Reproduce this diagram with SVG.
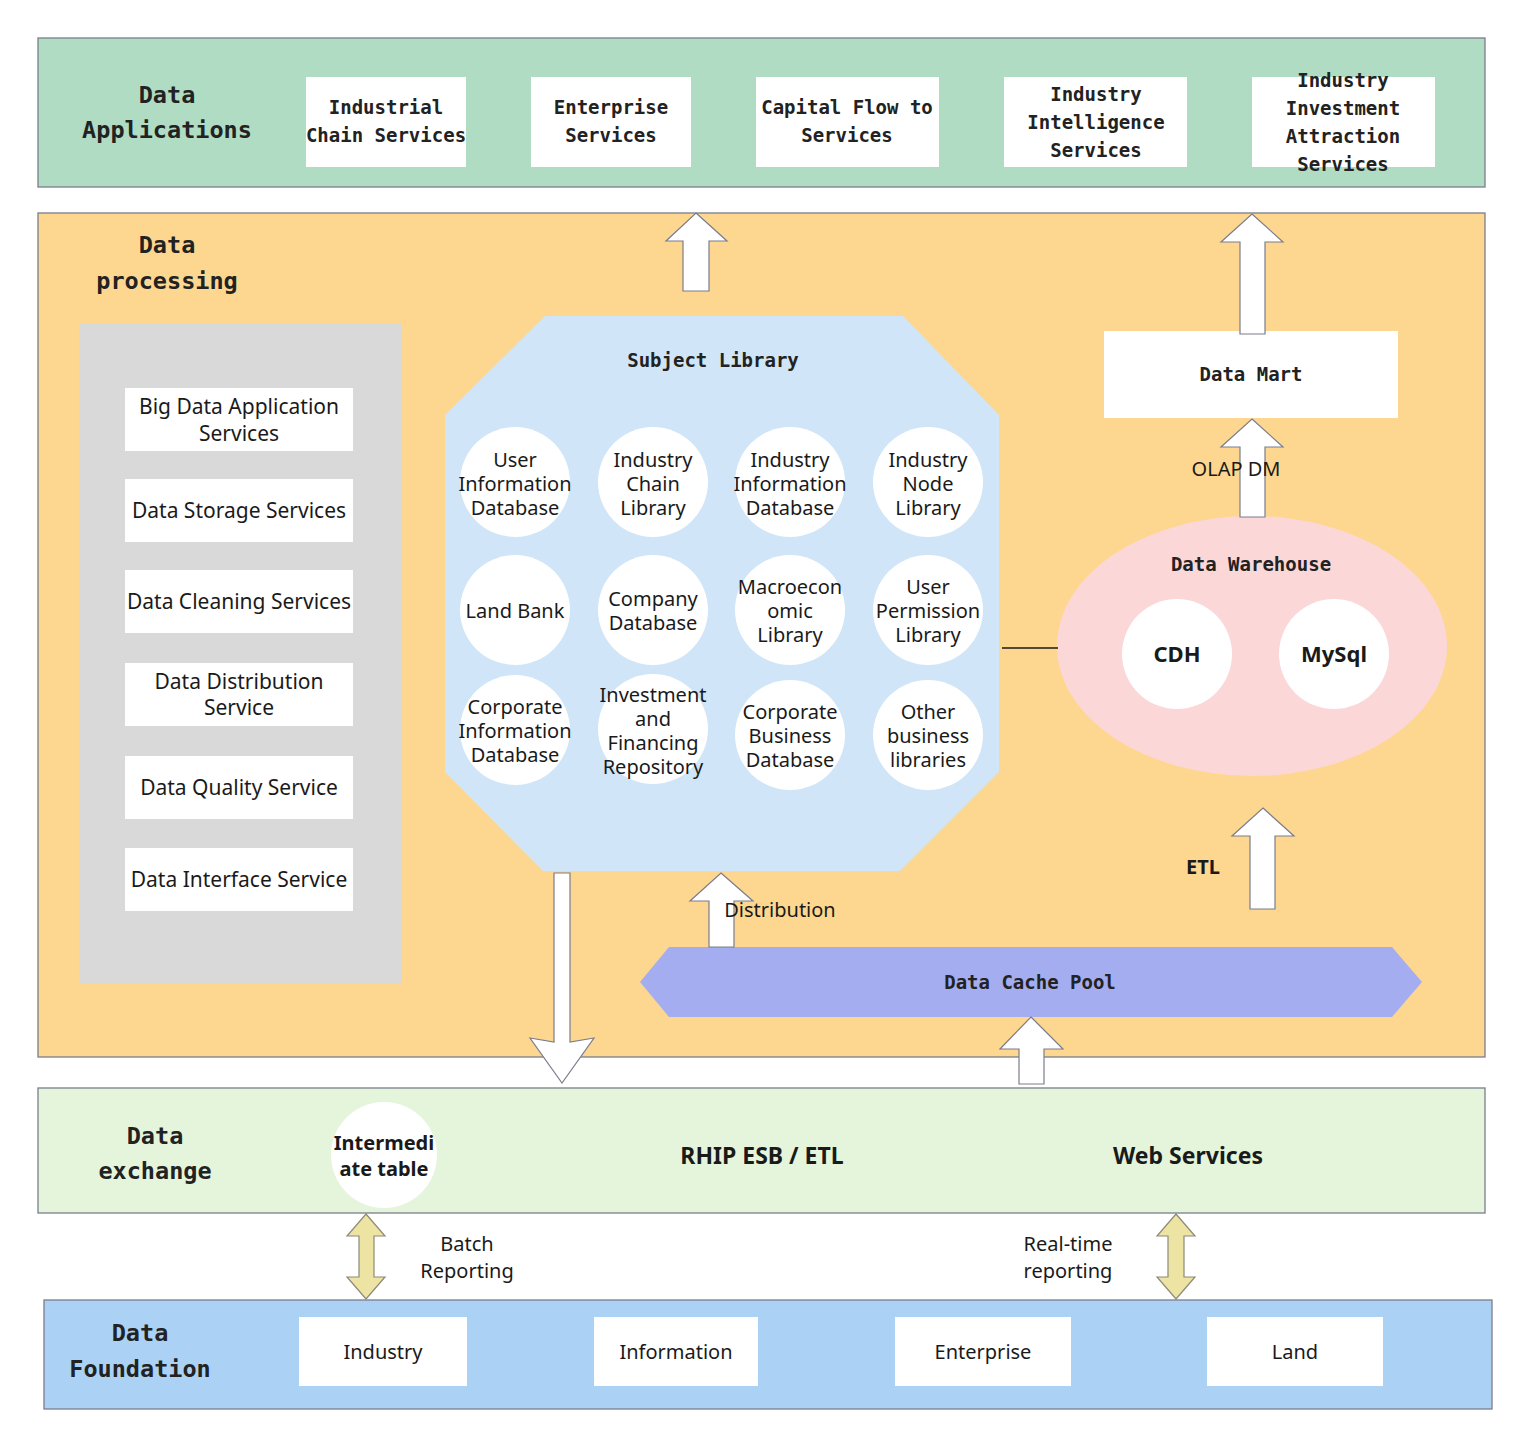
<svg xmlns="http://www.w3.org/2000/svg" width="1529" height="1446" viewBox="0 0 1529 1446">
<style>
.band{stroke:#7b7d8c;stroke-width:1.3}
.wb{fill:#ffffff}
.mono{font-family:"DejaVu Sans Mono","Liberation Mono",monospace;font-weight:bold;fill:#222222;text-anchor:middle;dominant-baseline:central}
.m19{font-size:19px}
.m24{font-size:23.5px}
.sans{font-family:"Noto Sans","Open Sans","Liberation Sans",sans-serif;fill:#1a1a1a;text-anchor:middle;dominant-baseline:central;font-size:20px}
.sb{font-weight:bold}
.arr{fill:#ffffff;stroke:#7b7d8c;stroke-width:1.2}
.darr{fill:#ede3a3;stroke:#8c8a78;stroke-width:1.2}
.circ{fill:#ffffff}
</style>
<rect width="1529" height="1446" fill="#ffffff"/>

<!-- Data Applications -->
<g id="data-applications">
<rect class="band" x="38" y="38" width="1447" height="149" fill="#b0dcc3"/>
<text class="mono m24" x="167" y="95">Data</text>
<text class="mono m24" x="167" y="130">Applications</text>
</g>
<g id="app-industrial-chain">
<rect class="wb" x="306" y="77" width="160" height="90"/>
<text class="mono m19" x="386" y="107">Industrial</text>
<text class="mono m19" x="386" y="135">Chain Services</text>
</g>
<g id="app-enterprise">
<rect class="wb" x="531" y="77" width="160" height="90"/>
<text class="mono m19" x="611" y="107">Enterprise</text>
<text class="mono m19" x="611" y="135">Services</text>
</g>
<g id="app-capital-flow">
<rect class="wb" x="756" y="77" width="183" height="90"/>
<text class="mono m19" x="847" y="107">Capital Flow to</text>
<text class="mono m19" x="847" y="135">Services</text>
</g>
<g id="app-industry-intelligence">
<rect class="wb" x="1004" y="77" width="183" height="90"/>
<text class="mono m19" x="1096" y="94">Industry</text>
<text class="mono m19" x="1096" y="122">Intelligence</text>
<text class="mono m19" x="1096" y="150">Services</text>
</g>
<g id="app-industry-investment">
<rect class="wb" x="1252" y="77" width="183" height="90"/>
<text class="mono m19" x="1343" y="80">Industry</text>
<text class="mono m19" x="1343" y="108">Investment</text>
<text class="mono m19" x="1343" y="136">Attraction</text>
<text class="mono m19" x="1343" y="164">Services</text>
</g>

<!-- Data processing -->
<g id="data-processing">
<rect class="band" x="38" y="213" width="1447" height="844" fill="#fdd78f"/>
<text class="mono m24" x="167" y="245">Data</text>
<text class="mono m24" x="167" y="281">processing</text>
</g>
<g id="services-panel">
<rect x="79" y="323" width="323" height="660" fill="#d9d9d9"/>
</g>
<g id="svc-big-data">
<rect class="wb" x="125" y="388" width="228" height="63"/>
<text class="sans" x="239" y="406" style="font-size:21px">Big Data Application</text>
<text class="sans" x="239" y="433" style="font-size:21px">Services</text>
</g>
<g id="svc-storage">
<rect class="wb" x="125" y="479" width="228" height="63"/>
<text class="sans" x="239" y="510" style="font-size:21px">Data Storage Services</text>
</g>
<g id="svc-cleaning">
<rect class="wb" x="125" y="570" width="228" height="63"/>
<text class="sans" x="239" y="601" style="font-size:21px">Data Cleaning Services</text>
</g>
<g id="svc-distribution">
<rect class="wb" x="125" y="663" width="228" height="63"/>
<text class="sans" x="239" y="681" style="font-size:21px">Data Distribution</text>
<text class="sans" x="239" y="707" style="font-size:21px">Service</text>
</g>
<g id="svc-quality">
<rect class="wb" x="125" y="756" width="228" height="63"/>
<text class="sans" x="239" y="787" style="font-size:21px">Data Quality Service</text>
</g>
<g id="svc-interface">
<rect class="wb" x="125" y="848" width="228" height="63"/>
<text class="sans" x="239" y="879" style="font-size:21px">Data Interface Service</text>
</g>

<!-- Subject Library -->
<g id="subject-library">
<polygon points="545,316 903,316 999,415 999,772 900,871 543,871 445,772 445,415" fill="#d0e5f7"/>
<text class="mono m19" x="713" y="360">Subject Library</text>
</g>
<g id="lib-user-info">
<circle class="circ" cx="515" cy="482" r="55"/>
<text class="sans" x="515" y="459">User</text>
<text class="sans" x="515" y="483">Information</text>
<text class="sans" x="515" y="507">Database</text>
</g>
<g id="lib-industry-chain">
<circle class="circ" cx="653" cy="482" r="55"/>
<text class="sans" x="653" y="459">Industry</text>
<text class="sans" x="653" y="483">Chain</text>
<text class="sans" x="653" y="507">Library</text>
</g>
<g id="lib-industry-info">
<circle class="circ" cx="790" cy="482" r="55"/>
<text class="sans" x="790" y="459">Industry</text>
<text class="sans" x="790" y="483">Information</text>
<text class="sans" x="790" y="507">Database</text>
</g>
<g id="lib-industry-node">
<circle class="circ" cx="928" cy="482" r="55"/>
<text class="sans" x="928" y="459">Industry</text>
<text class="sans" x="928" y="483">Node</text>
<text class="sans" x="928" y="507">Library</text>
</g>
<g id="lib-land-bank">
<circle class="circ" cx="515" cy="610" r="55"/>
<text class="sans" x="515" y="610">Land Bank</text>
</g>
<g id="lib-company">
<circle class="circ" cx="653" cy="610" r="55"/>
<text class="sans" x="653" y="598">Company</text>
<text class="sans" x="653" y="622">Database</text>
</g>
<g id="lib-macro">
<circle class="circ" cx="790" cy="610" r="55"/>
<text class="sans" x="790" y="586">Macroecon</text>
<text class="sans" x="790" y="610">omic</text>
<text class="sans" x="790" y="634">Library</text>
</g>
<g id="lib-user-permission">
<circle class="circ" cx="928" cy="610" r="55"/>
<text class="sans" x="928" y="586">User</text>
<text class="sans" x="928" y="610">Permission</text>
<text class="sans" x="928" y="634">Library</text>
</g>
<g id="lib-corporate-info">
<circle class="circ" cx="515" cy="730" r="55"/>
<text class="sans" x="515" y="706">Corporate</text>
<text class="sans" x="515" y="730">Information</text>
<text class="sans" x="515" y="754">Database</text>
</g>
<g id="lib-investment">
<circle class="circ" cx="653" cy="729" r="55"/>
<text class="sans" x="653" y="694">Investment</text>
<text class="sans" x="653" y="718">and</text>
<text class="sans" x="653" y="742">Financing</text>
<text class="sans" x="653" y="766">Repository</text>
</g>
<g id="lib-corporate-business">
<circle class="circ" cx="790" cy="735" r="55"/>
<text class="sans" x="790" y="711">Corporate</text>
<text class="sans" x="790" y="735">Business</text>
<text class="sans" x="790" y="759">Database</text>
</g>
<g id="lib-other">
<circle class="circ" cx="928" cy="735" r="55"/>
<text class="sans" x="928" y="711">Other</text>
<text class="sans" x="928" y="735">business</text>
<text class="sans" x="928" y="759">libraries</text>
</g>

<!-- Data Mart -->
<g id="data-mart">
<rect class="wb" x="1104" y="331" width="294" height="87"/>
<text class="mono m19" x="1251" y="374">Data Mart</text>
</g>

<!-- Data Warehouse -->
<g id="data-warehouse">
<ellipse cx="1252" cy="646" rx="195" ry="130" fill="#fbd7d8"/>
<text class="mono m19" x="1251" y="564">Data Warehouse</text>
</g>
<g id="dw-cdh">
<circle class="circ" cx="1177" cy="654" r="55"/>
<text class="sans sb" x="1177" y="653" style="font-size:22px">CDH</text>
</g>
<g id="dw-mysql">
<circle class="circ" cx="1334" cy="654" r="55"/>
<text class="sans sb" x="1334" y="653" style="font-size:22px">MySql</text>
</g>

<!-- Data Cache Pool -->
<g id="data-cache-pool">
<polygon points="640,982 669,947 1392,947 1422,982 1392,1017 669,1017" fill="#a4adf0"/>
<text class="mono m19" x="1030" y="982">Data Cache Pool</text>
</g>

<!-- Data exchange -->
<g id="data-exchange">
<rect class="band" x="38" y="1088" width="1447" height="125" fill="#e5f5dc"/>
<text class="mono m24" x="155" y="1136">Data</text>
<text class="mono m24" x="155" y="1171">exchange</text>
<text class="sans sb" x="762" y="1155" style="font-size:23px">RHIP ESB / ETL</text>
<text class="sans sb" x="1188" y="1155" style="font-size:23px">Web Services</text>
</g>
<g id="intermediate-table">
<ellipse cx="384" cy="1155" rx="53" ry="53" fill="#ffffff"/>
<text class="sans sb" x="384" y="1142">Intermedi</text>
<text class="sans sb" x="384" y="1168">ate table</text>
</g>

<!-- Data Foundation -->
<g id="data-foundation">
<rect class="band" x="44" y="1300" width="1448" height="109" fill="#abd2f5"/>
<text class="mono m24" x="140" y="1333">Data</text>
<text class="mono m24" x="140" y="1369">Foundation</text>
</g>
<g id="df-industry">
<rect class="wb" x="299" y="1317" width="168" height="69"/>
<text class="sans" x="383" y="1351">Industry</text>
</g>
<g id="df-information">
<rect class="wb" x="594" y="1317" width="164" height="69"/>
<text class="sans" x="676" y="1351">Information</text>
</g>
<g id="df-enterprise">
<rect class="wb" x="895" y="1317" width="176" height="69"/>
<text class="sans" x="983" y="1351">Enterprise</text>
</g>
<g id="df-land">
<rect class="wb" x="1207" y="1317" width="176" height="69"/>
<text class="sans" x="1295" y="1351">Land</text>
</g>

<!-- Connectors -->
<g id="connectors">
<polygon class="arr" points="696,213 727,241 709,241 709,291 683,291 683,241 666,241"/>
<polygon class="arr" points="1252,214 1283,242 1265,242 1265,334 1240,334 1240,242 1221,242"/>
<polygon class="arr" points="1252,419 1283,447 1265,447 1265,517 1240,517 1240,447 1221,447"/>
<polygon class="arr" points="1263,808 1294,836 1275,836 1275,909 1250,909 1250,836 1232,836"/>
<polygon class="arr" points="721,873 753,901 734,901 734,947 709,947 709,901 690,901"/>
<polygon class="arr" points="554,873 570,873 570,1042 594,1038 562,1083 530,1038 554,1042"/>
<polygon class="arr" points="1031,1017 1063,1049 1044,1049 1044,1084 1019,1084 1019,1049 1000,1049"/>
<polygon class="darr" points="366,1214 385,1236 374,1236 374,1277 385,1277 366,1299 347,1277 359,1277 359,1236 347,1236"/>
<polygon class="darr" points="1176,1214 1195,1236 1184,1236 1184,1277 1195,1277 1176,1299 1157,1277 1168,1277 1168,1236 1157,1236"/>
<line x1="1002" y1="648" x2="1058" y2="648" stroke="#1a1a1a" stroke-width="1.3"/>
<text class="sans" x="1236" y="468">OLAP DM</text>
<text class="sans sb" x="1203" y="866">ETL</text>
<text class="sans" x="780" y="909">Distribution</text>
<text class="sans" x="467" y="1243">Batch</text>
<text class="sans" x="467" y="1270">Reporting</text>
<text class="sans" x="1068" y="1243">Real-time</text>
<text class="sans" x="1068" y="1270">reporting</text>
</g>
</svg>
